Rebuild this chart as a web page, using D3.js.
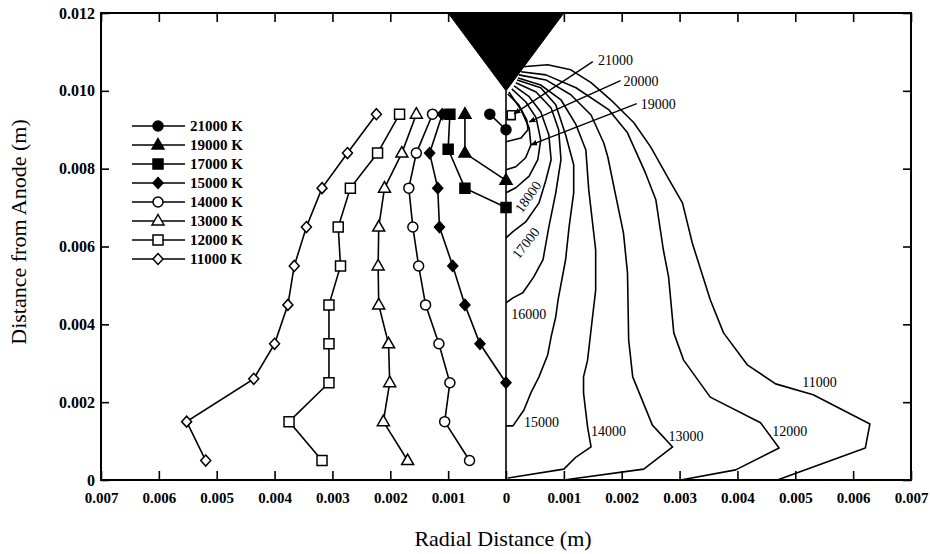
<!DOCTYPE html>
<html>
<head>
<meta charset="utf-8">
<script src="https://cdn.jsdelivr.net/npm/d3@7"></script>
<style>
  body { margin: 0; background: #fff; }
  svg { display: block; }
  text { font-family: "Liberation Serif", "Times New Roman", serif; fill: #000; }
</style>
</head>
<body>
<svg id="chart" width="930" height="554"></svg>
<script>
// ---------- data (metres) ----------
const xTicks = [-0.007, -0.006, -0.005, -0.004, -0.003, -0.002, -0.001, 0, 0.001, 0.002, 0.003, 0.004, 0.005, 0.006, 0.007];
const yTicks = [0, 0.002, 0.004, 0.006, 0.008, 0.010, 0.012];

// measured isotherm positions (left half): [radial, axial]
const seriesNames = ["21000 K", "19000 K", "17000 K", "15000 K", "14000 K", "13000 K", "12000 K", "11000 K"];
const s21000 = [[-0.00028, 0.0094], [0, 0.0090]];
const s19000 = [[-0.00071, 0.0094], [-0.00071, 0.0084], [0, 0.0077]];
const s17000 = [[-0.00097, 0.0094], [-0.00100, 0.0085], [-0.00071, 0.0075], [0, 0.0070]];
const s15000 = [[-0.00110, 0.0094], [-0.00132, 0.0084], [-0.00118, 0.0075], [-0.00115, 0.0065], [-0.00092, 0.0055], [-0.00071, 0.0045], [-0.00045, 0.0035], [0, 0.0025]];
const s14000 = [[-0.00127, 0.0094], [-0.00155, 0.0084], [-0.00168, 0.0075], [-0.00161, 0.0065], [-0.00151, 0.0055], [-0.00139, 0.0045], [-0.00116, 0.0035], [-0.00097, 0.0025], [-0.00106, 0.0015], [-0.00063, 0.0005]];
const s13000 = [[-0.00155, 0.0094], [-0.00180, 0.0084], [-0.00210, 0.0075], [-0.00220, 0.0065], [-0.00221, 0.0055], [-0.00220, 0.0045], [-0.00203, 0.0035], [-0.00201, 0.0025], [-0.00212, 0.0015], [-0.00170, 0.0005]];
const s12000 = [[-0.00184, 0.0094], [-0.00222, 0.0084], [-0.00269, 0.0075], [-0.00290, 0.0065], [-0.00286, 0.0055], [-0.00306, 0.0045], [-0.00306, 0.0035], [-0.00306, 0.0025], [-0.00375, 0.0015], [-0.00318, 0.0005]];
const s11000 = [[-0.00224, 0.0094], [-0.00274, 0.0084], [-0.00318, 0.0075], [-0.00345, 0.0065], [-0.00366, 0.0055], [-0.00377, 0.0045], [-0.00400, 0.0035], [-0.00436, 0.0026], [-0.00552, 0.0015], [-0.00519, 0.0005]];
const seriesData = [s21000, s19000, s17000, s15000, s14000, s13000, s12000, s11000];

// calculated isotherms (right half)
const contourLevels = [11000, 12000, 13000, 14000, 15000, 16000, 17000, 18000, 19000, 20000, 21000];
const c11000 = [[0.00029, 0.01062], [0.00072, 0.01067], [0.00112, 0.01054], [0.00147, 0.01021], [0.00181, 0.00977], [0.00221, 0.00918], [0.00250, 0.00856], [0.00284, 0.00766], [0.00305, 0.00712], [0.00322, 0.00609], [0.00353, 0.00463], [0.00376, 0.00378], [0.00417, 0.00296], [0.00466, 0.00247], [0.00531, 0.00219], [0.00629, 0.00144], [0.00621, 0.00082], [0.00469, 0]];
const c12000 = [[0.00026, 0.01049], [0.00069, 0.01041], [0.00121, 0.01008], [0.00178, 0.00951], [0.00210, 0.00892], [0.00241, 0.00789], [0.00259, 0.00720], [0.00272, 0.00591], [0.00281, 0.00522], [0.00290, 0.00378], [0.00307, 0.00308], [0.00353, 0.00213], [0.00440, 0.00147], [0.00472, 0.00082], [0.00397, 0.00026], [0.00302, 0]];
const c13000 = [[0.00022, 0.01041], [0.00069, 0.01028], [0.00112, 0.00990], [0.00147, 0.00938], [0.00169, 0.00866], [0.00176, 0.00830], [0.00190, 0.00728], [0.00203, 0.00635], [0.00210, 0.00532], [0.00212, 0.00360], [0.00219, 0.00265], [0.00253, 0.00141], [0.00288, 0.00085], [0.00238, 0.00028], [0.00100, 0]];
const c14000 = [[0.00021, 0.01033], [0.00060, 0.01015], [0.00095, 0.00977], [0.00121, 0.00913], [0.00138, 0.00848], [0.00143, 0.00746], [0.00155, 0.00591], [0.00155, 0.00488], [0.00147, 0.00386], [0.00141, 0.00308], [0.00134, 0.00265], [0.00134, 0.00224], [0.00141, 0.00136], [0.00147, 0.00085], [0.00121, 0.00059], [0.00100, 0.00028], [0.00003, 0.00005]];
const c15000 = [[0.00019, 0.01028], [0.00060, 0.01008], [0.00086, 0.00964], [0.00103, 0.00887], [0.00117, 0.00810], [0.00117, 0.00738], [0.00109, 0.00650], [0.00103, 0.00566], [0.00090, 0.00463], [0.00086, 0.00419], [0.00078, 0.00368], [0.00072, 0.00321], [0.00057, 0.00265], [0.00043, 0.00224], [0.00031, 0.00180], [0.00012, 0.00139], [0, 0.00139]];
const c16000 = [[0.00017, 0.01021], [0.00052, 0.00997], [0.00078, 0.00956], [0.00091, 0.00900], [0.00095, 0.00823], [0.00086, 0.00738], [0.00074, 0.00650], [0.00064, 0.00566], [0.00048, 0.00522], [0.00029, 0.00481], [0.00012, 0.00468], [0, 0.00455]];
const c17000 = [[0.00014, 0.01013], [0.00040, 0.00985], [0.00060, 0.00946], [0.00074, 0.00887], [0.00078, 0.00823], [0.00069, 0.00771], [0.00057, 0.00712], [0.00034, 0.00663], [0.00012, 0.00638], [0, 0.00622]];
const c18000 = [[0.00010, 0.01005], [0.00034, 0.00972], [0.00052, 0.00931], [0.00060, 0.00874], [0.00055, 0.00823], [0.00040, 0.00781], [0.00017, 0.00751], [0, 0.00738]];
const c19000 = [[0.00005, 0.00997], [0.00026, 0.00951], [0.00040, 0.00905], [0.00043, 0.00861], [0.00034, 0.00828], [0.00017, 0.00805], [0, 0.00797]];
const c20000 = [[0.00003, 0.00992], [0.00022, 0.00964], [0.00036, 0.00925], [0.00038, 0.00900], [0.00026, 0.00879], [0, 0.00869]];
const c21000 = [[0.00002, 0.00949], [0.00016, 0.00949], [0.00016, 0.00926], [0.00002, 0.00926], [0.00002, 0.00949]];
const contourData = [c11000, c12000, c13000, c14000, c15000, c16000, c17000, c18000, c19000, c20000, c21000];

// cathode tip outline
const cathode = [[-0.001, 0.012], [0.001, 0.012], [0, 0.010]];

// contour label anchors [x, y, rotation] and leader lines for the tip labels
const contourLabels = [
  { text: "21000", at: [0.00159, 0.01067], rot: 0 },
  { text: "20000", at: [0.00203, 0.01013], rot: 0 },
  { text: "19000", at: [0.00233, 0.00954], rot: 0 },
  { text: "18000", at: [0.00038, 0.00728], rot: -55, mid: true },
  { text: "17000", at: [0.00034, 0.00609], rot: -52, mid: true },
  { text: "16000", at: [0.00009, 0.00414], rot: 0 },
  { text: "15000", at: [0.00031, 0.00136], rot: 0 },
  { text: "14000", at: [0.00147, 0.00113], rot: 0 },
  { text: "13000", at: [0.00281, 0.00100], rot: 0 },
  { text: "12000", at: [0.00460, 0.00113], rot: 0 },
  { text: "11000", at: [0.00512, 0.00239], rot: 0 }
];
const leaders = [
  [[0.00150, 0.01075], [0.00014, 0.00941]],
  [[0.00198, 0.01026], [0.00040, 0.00920]],
  [[0.00226, 0.00967], [0.00043, 0.00861]]
];

// ---------- drawing ----------
const svg = d3.select("#chart");
const L = 101, R = 911, T = 13, B = 480;
const x = d3.scaleLinear().domain([-0.007, 0.007]).range([L, R]);
const y = d3.scaleLinear().domain([0, 0.012]).range([B, T]);

const markerStyle = {
  "21000 K": { shape: "circle", filled: true },
  "19000 K": { shape: "triangle", filled: true },
  "17000 K": { shape: "square", filled: true },
  "15000 K": { shape: "diamond", filled: true },
  "14000 K": { shape: "circle", filled: false },
  "13000 K": { shape: "triangle", filled: false },
  "12000 K": { shape: "square", filled: false },
  "11000 K": { shape: "diamond", filled: false }
};
function shapePath(shape) {
  switch (shape) {
    case "circle": return "M5,0A5,5 0 1,1 -5,0A5,5 0 1,1 5,0Z";
    case "square": return "M-5,-5H5V5H-5Z";
    case "triangle": return "M0,-6.5L6,4L-6,4Z";
    case "diamond": return "M0,-5.5L5,0L0,5.5L-5,0Z";
  }
}
function drawMarker(g, name, px, py) {
  const st = markerStyle[name];
  g.append("path")
    .attr("d", shapePath(st.shape))
    .attr("transform", `translate(${px},${py})`)
    .attr("fill", st.filled ? "#000" : "#fff")
    .attr("stroke", "#000")
    .attr("stroke-width", 1.5);
}

const line = d3.line().x(d => x(d[0])).y(d => y(d[1]));

// calculated isotherms
const cg = svg.append("g");
contourData.forEach(c => {
  cg.append("path").attr("d", line(c))
    .attr("fill", "none").attr("stroke", "#000")
    .attr("stroke-width", 1.6).attr("stroke-linejoin", "round");
});

// symmetry axis
svg.append("line")
  .attr("x1", x(0)).attr("x2", x(0))
  .attr("y1", y(0)).attr("y2", y(0.010))
  .attr("stroke", "#000").attr("stroke-width", 1.6);

// cathode
svg.append("path")
  .attr("d", line(cathode) + "Z")
  .attr("fill", "#000").attr("stroke", "#000");

// leaders with small arrow tips
svg.append("defs").append("marker")
  .attr("id", "tip").attr("viewBox", "0 0 10 10")
  .attr("refX", 9).attr("refY", 5)
  .attr("markerWidth", 5).attr("markerHeight", 5)
  .attr("orient", "auto")
  .append("path").attr("d", "M0,1L10,5L0,9Z").attr("fill", "#000");
leaders.forEach(l => {
  svg.append("path").attr("d", line(l))
    .attr("stroke", "#000").attr("stroke-width", 1.4)
    .attr("fill", "none").attr("marker-end", "url(#tip)");
});

// contour labels
contourLabels.forEach(lb => {
  const px = x(lb.at[0]), py = y(lb.at[1]);
  svg.append("text")
    .attr("transform", `translate(${px},${py}) rotate(${lb.rot})`)
    .attr("text-anchor", lb.mid ? "middle" : "start")
    .attr("dy", lb.mid ? "0.35em" : 0)
    .attr("font-size", 14)
    .text(lb.text);
});

// measured series
const sg = svg.append("g");
seriesData.forEach((s, i) => {
  sg.append("path").attr("d", line(s))
    .attr("fill", "none").attr("stroke", "#000").attr("stroke-width", 1.6);
});
seriesData.forEach((s, i) => {
  s.forEach(p => drawMarker(sg, seriesNames[i], x(p[0]), y(p[1])));
});

// legend
const lg = svg.append("g");
seriesNames.forEach((n, i) => {
  const ly = 126 + i * 19;
  lg.append("line").attr("x1", 132).attr("x2", 185)
    .attr("y1", ly).attr("y2", ly)
    .attr("stroke", "#000").attr("stroke-width", 1.6);
  drawMarker(lg, n, 158, ly);
  lg.append("text").attr("x", 190).attr("y", ly).attr("dy", "0.35em")
    .attr("font-size", 15).attr("font-weight", "bold").text(n);
});

// axes with inward ticks
const fmtX = d => d === 0 ? "0" : d3.format(".3f")(Math.abs(d));
const fmtY = d => d === 0 ? "0" : d3.format(".3f")(d);
const ax = svg.append("g");
ax.append("g").attr("transform", `translate(0,${B})`)
  .call(d3.axisBottom(x).tickValues(xTicks).tickSize(-9).tickPadding(12).tickFormat(fmtX))
  .call(g => g.select(".domain").remove())
  .call(g => g.selectAll("text").attr("font-size", 15).attr("font-weight", "bold")
    .style("font-family", "'Liberation Serif', serif"));
ax.append("g").attr("transform", `translate(0,${T})`)
  .call(d3.axisTop(x).tickValues(xTicks).tickSize(-9).tickFormat(""))
  .call(g => g.select(".domain").remove());
ax.append("g").attr("transform", `translate(${L},0)`)
  .call(d3.axisLeft(y).tickValues(yTicks).tickSize(-8).tickPadding(6).tickFormat(fmtY))
  .call(g => g.select(".domain").remove())
  .call(g => g.selectAll("text").attr("font-size", 16).attr("font-weight", "bold")
    .style("font-family", "'Liberation Serif', serif"));
ax.append("g").attr("transform", `translate(${R},0)`)
  .call(d3.axisRight(y).tickValues(yTicks).tickSize(-8).tickFormat(""))
  .call(g => g.select(".domain").remove());
ax.selectAll(".tick line").attr("stroke", "#000").attr("stroke-width", 1.6);

// frame
svg.append("rect").attr("x", L).attr("y", T)
  .attr("width", R - L).attr("height", B - T)
  .attr("fill", "none").attr("stroke", "#000").attr("stroke-width", 2);

// axis titles
svg.append("text").attr("x", 503).attr("y", 546)
  .attr("text-anchor", "middle").attr("font-size", 22)
  .text("Radial Distance (m)");
svg.append("text")
  .attr("transform", "translate(26,232) rotate(-90)")
  .attr("text-anchor", "middle").attr("font-size", 22)
  .text("Distance from Anode (m)");
</script>
</body>
</html>
